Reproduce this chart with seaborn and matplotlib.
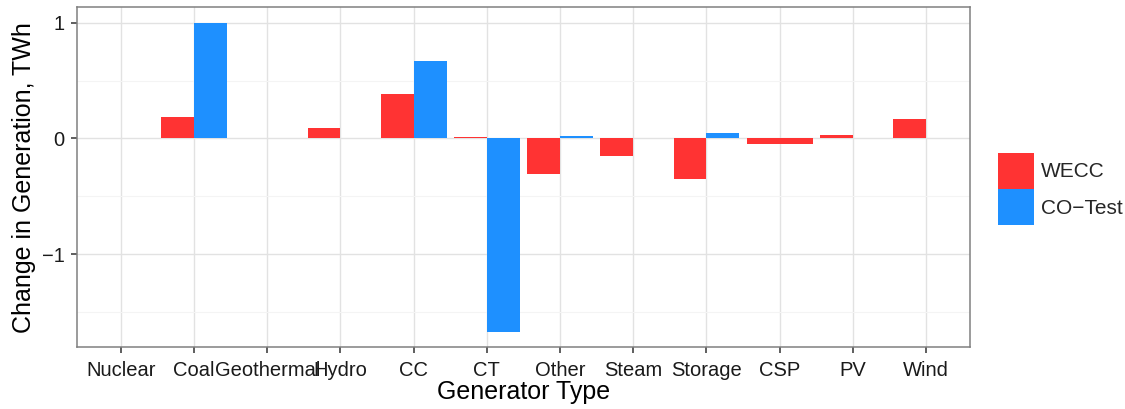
import numpy as np
import pandas as pd
import matplotlib
matplotlib.use("Agg")
import matplotlib.pyplot as plt
import seaborn as sns
import seaborn.objects as so
from matplotlib.patches import Patch
from matplotlib.ticker import FixedLocator

# Generator categories, in display order
generator_types = ["Nuclear", "Coal", "Geothermal", "Hydro", "CC", "CT",
                   "Other", "Steam", "Storage", "CSP", "PV", "Wind"]

# Change in generation (TWh) for the WECC model
wecc_types = ["Nuclear", "Coal", "Geothermal", "Hydro", "CC", "CT",
              "Other", "Steam", "Storage", "CSP", "PV", "Wind"]
wecc_change = [0.005, 0.187, 0.004, 0.087, 0.383, 0.015,
               -0.309, -0.153, -0.355, -0.05, 0.029, 0.167]

# Change in generation (TWh) for the CO-Test model (no Nuclear/Geothermal/CSP rows)
co_test_types = ["Coal", "Hydro", "CC", "CT", "Other", "Steam", "Storage", "PV", "Wind"]
co_test_change = [1.0, 0.0, 0.669, -1.673, 0.02, 0.0, 0.048, 0.0, 0.004]

models = ["WECC", "CO-Test"]
legend_labels = ["WECC", "CO\u2212Test"]
model_colors = {"WECC": "#FF3333", "CO-Test": "#1E90FF"}

df = pd.concat([
    pd.DataFrame({"Generator Type": wecc_types, "Change": wecc_change, "Model": "WECC"}),
    pd.DataFrame({"Generator Type": co_test_types, "Change": co_test_change, "Model": "CO-Test"}),
], ignore_index=True)

sns.set_theme(style="white")
plt.rcParams["font.family"] = ["Liberation Sans", "DejaVu Sans"]

fig = plt.figure(figsize=(11.25, 4.09), dpi=100)
ax = fig.add_axes([0.0684, 0.1504, 0.7938, 0.832])

(
    so.Plot(df, x="Generator Type", y="Change", color="Model")
    .add(so.Bar(width=0.9, alpha=1, edgewidth=0),
         so.Dodge(empty="fill", gap=0), legend=False)
    .scale(x=so.Nominal(order=generator_types),
           color=so.Nominal(model_colors, order=models))
    .on(ax)
    .plot()
)

# Axis limits with 5% padding on the value range, 0.6 on the categories
lo = min(min(wecc_change), min(co_test_change))
hi = max(max(wecc_change), max(co_test_change))
pad = 0.05 * (hi - lo)
ax.set_ylim(lo - pad, hi + pad)
ax.set_xlim(-0.6, len(generator_types) - 0.4)

ax.set_facecolor("white")
ax.set_xticks(range(len(generator_types)))
ax.set_xticklabels(generator_types)
ax.yaxis.set_major_locator(FixedLocator([-1, 0, 1]))
ax.yaxis.set_minor_locator(FixedLocator([-1.5, -0.5, 0.5]))
ax.set_yticklabels(["\u22121", "0", "1"])
ax.set_axisbelow(True)
ax.grid(True, which="major", axis="both", color="#E2E2E2", linewidth=1.0)
ax.grid(True, which="minor", axis="y", color="#F4F4F4", linewidth=0.8)
for sp in ax.spines.values():
    sp.set_visible(True)
    sp.set_color("#808080")
    sp.set_linewidth(1.1)

ax.tick_params(axis="x", which="major", pad=6)
ax.tick_params(axis="y", which="major", pad=5)
ax.tick_params(axis="both", which="major", direction="out", length=4, width=1.1,
               color="#333333", labelsize=14.5, labelcolor="#1A1A1A",
               bottom=True, left=True)
ax.tick_params(axis="both", which="minor", length=0)

ax.set_xlabel("Generator Type", fontsize=18, color="black", labelpad=0)
ax.set_ylabel("Change in Generation, TWh", fontsize=18, color="black")
ax.yaxis.set_label_coords(-0.046, 0.5)

handles = [Patch(facecolor=model_colors[m], edgecolor="none", label=lab)
           for m, lab in zip(models, legend_labels)]
fig.legend(handles=handles, loc="center left", bbox_to_anchor=(0.8875, 0.5379),
           frameon=False, fontsize=15, handlelength=1.72, handleheight=2.3,
           labelspacing=0, handletextpad=0.3, borderpad=0, borderaxespad=0)

fig.savefig("out.png", dpi=100)
